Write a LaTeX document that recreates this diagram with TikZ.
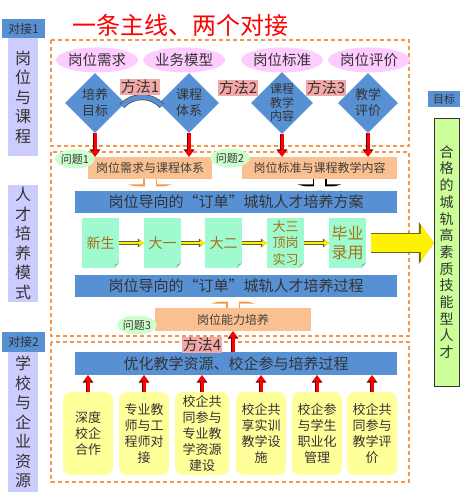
\documentclass[tikz,border=0pt]{standalone}
\usepackage{fontspec}
\setmainfont{Noto Sans CJK SC}
\usetikzlibrary{calc,shapes.geometric,arrows.meta}

\definecolor{barblue}{RGB}{88,144,212}
\definecolor{lav}{RGB}{204,204,255}
\definecolor{pinkell}{RGB}{255,204,255}
\definecolor{methodpink}{RGB}{244,168,168}
\definecolor{qgreen}{RGB}{204,255,204}
\definecolor{boxorange}{RGB}{250,192,144}
\definecolor{mint}{RGB}{160,250,208}
\definecolor{paleyel}{RGB}{255,255,153}
\definecolor{dashorange}{RGB}{247,150,70}
\definecolor{goalgreen}{RGB}{204,255,153}
\definecolor{stagetext}{RGB}{160,115,20}

\begin{document}
\begin{tikzpicture}[x=1pt, y=-1pt,
  colbox/.style={fill=lav, minimum width=30pt, inner sep=0pt, align=center,
    font=\fontsize{16}{19.5}\selectfont, text=black!80},
  dockbox/.style={fill=barblue, minimum width=43pt, minimum height=19pt, inner sep=0pt,
    font=\fontsize{12}{12}\selectfont, text=black!80},
  frame/.style={draw=dashorange, line width=1.2pt, dash pattern=on 4pt off 3pt},
  demand/.style={ellipse, fill=pinkell, minimum width=80pt, minimum height=25pt, inner sep=0pt,
    font=\fontsize{14.5}{14.5}\selectfont, text=black!80},
  gem/.style={diamond, fill=barblue, minimum width=60pt, minimum height=60pt, inner sep=0pt,
    align=center, text=black!80},
  method/.style={fill=methodpink, inner sep=1pt, font=\fontsize{15}{15}\selectfont, text=black!80},
  question/.style={ellipse, fill=qgreen, minimum width=34pt, minimum height=19pt, inner sep=0pt,
    font=\fontsize{11}{11}\selectfont, text=black!80},
  issue/.style={fill=boxorange, minimum height=22pt, inner sep=0pt,
    font=\fontsize{12}{12}\selectfont, text=black!75},
  bar/.style={fill=barblue, minimum width=322pt, minimum height=22pt, inner sep=0pt,
    font=\fontsize{15}{15}\selectfont, text=black!80},
  stage/.style={fill=mint, minimum width=37pt, minimum height=50pt, inner sep=0pt,
    align=center, text=stagetext},
  resource/.style={fill=paleyel, rounded corners=8pt, minimum width=50pt, minimum height=83pt,
    inner sep=0pt, align=center, font=\fontsize{13}{16}\selectfont, text=black!80},
  redarrow/.style={draw=red, line width=3pt, -{Triangle[length=6pt,width=8pt]},
    preaction={draw=red!40!black, line width=4.2pt, -{Triangle[length=7.5pt,width=10.5pt]}}},
  yelarrow/.style={draw=yellow, line width=2.4pt, -{Triangle[length=4.5pt,width=6pt]},
    preaction={draw=olive!60!black, line width=3.8pt, -{Triangle[length=6pt,width=8.5pt]}}},
  hollow/.style={draw=white, line width=11pt, -{Triangle[length=4.5pt,width=39pt]},
    preaction={draw=#1, line width=14pt, -{Triangle[length=6.5pt,width=44pt]}}},
  bigarrow/.style={draw=yellow, line width=18pt, -{Triangle[length=13pt,width=37pt]},
    preaction={draw=olive!70!black, line width=20pt, -{Triangle[length=15pt,width=41pt]}}},
]

  \useasboundingbox (0,0) rectangle (468,502);

  % Dashed frames
  \draw[frame] (51,40) rectangle (409,146);
  \draw[frame] (51,152) rectangle (409,336);
  \draw[frame] (51,342) rectangle (409,482);

  % Title
  \node[text=red, font=\fontsize{24}{24}\selectfont] (title) at (180,25) {一条主线、两个对接};

  % Left column
  \node[dockbox] (dock1) at (23.5,29) {对接1};
  \node[colbox, minimum height=118pt] (col1) at (23,97) {岗\\位\\与\\课\\程};
  \node[colbox, minimum height=117pt] (col2) at (23,243.5) {人\\才\\培\\养\\模\\式};
  \node[dockbox, minimum height=20pt] (dock2) at (23.5,342) {对接2};
  \node[colbox, minimum height=140pt] (col3) at (23,422) {学\\校\\与\\企\\业\\资\\源};

  % Demands and diamonds
  \node[demand] (e1) at (97,60) {岗位需求};
  \node[demand] (e2) at (184,60) {业务模型};
  \node[demand] (e3) at (282,60) {岗位标准};
  \node[demand] (e4) at (369,60) {岗位评价};

  \node[gem, font=\fontsize{13}{16}\selectfont] (d1) at (95,103) {培养\\目标};
  \node[gem, font=\fontsize{13}{16}\selectfont] (d2) at (189,103) {课程\\体系};
  \node[gem, font=\fontsize{12}{13.5}\selectfont] (d3) at (282,103) {课程\\教学\\内容};
  \node[gem, font=\fontsize{13}{16}\selectfont] (d4) at (368,103) {教学\\评价};

  % Bridge between the first two diamonds
  \draw[line width=4.5pt, barblue, preaction={draw=black!70, line width=6pt}]
    ($(d1.east)+(-3,3)$) to[bend left=50] ($(d2.west)+(3,3)$);

  \node[method] (m1) at (140,87) {方法1};
  \node[method] (m2) at (238,88) {方法2};
  \node[method] (m3) at (326,88) {方法3};

  % Problems
  \node[issue, minimum width=124pt] (q1box) at (150,168) {岗位需求与课程体系};
  \node[issue, minimum width=155pt] (q2box) at (319.5,168) {岗位标准与课程教学内容};
  \node[question] (q1) at (75,159) {问题1};
  \node[question] (q2) at (230,158) {问题2};

  \draw[redarrow] (d1.south) -- (d1.south |- q1box.north);
  \draw[redarrow] (d2.south) -- (d2.south |- q1box.north);
  \draw[redarrow] (d3.south) -- (d3.south |- q2box.north);
  \draw[redarrow] (d4.south) -- (d4.south |- q2box.north);

  % Training plan and stages
  \node[bar] (plan) at (236,202) {岗位导向的“订单”城轨人才培养方案};
  \draw[hollow=dashorange] (q1box.south) -- (q1box.south |- plan.north);
  \draw[hollow=black] (q2box.south) -- (q2box.south |- plan.north);

  \node[stage, font=\fontsize{14}{14}\selectfont] (s1) at (100.5,243) {新生};
  \node[stage, font=\fontsize{14}{14}\selectfont] (s2) at (162.5,243) {大一};
  \node[stage, font=\fontsize{14}{14}\selectfont] (s3) at (223.5,243) {大二};
  \node[stage, font=\fontsize{13}{16.5}\selectfont] (s4) at (285.5,243) {大三\\顶岗\\实习};
  \node[stage, font=\fontsize{16}{19}\selectfont] (s5) at (347.5,243) {毕业\\录用};

  % Folded corners
  \foreach \s in {s1,s2,s3,s4,s5} {
    \fill[white] (\s.south east) -- ($(\s.south east)+(-5,0)$) -- ($(\s.south east)+(0,-5)$) -- cycle;
    \fill[mint!55!gray] ($(\s.south east)+(-5,0)$) -- ($(\s.south east)+(0,-5)$) -- ($(\s.south east)+(-4,-4)$) -- cycle;
  }

  \draw[yelarrow] (s1) -- (s2);
  \draw[yelarrow] (s2) -- (s3);
  \draw[yelarrow] (s3) -- (s4);
  \draw[yelarrow] (s4) -- (s5);

  \node[bar] (process) at (236,286) {岗位导向的“订单”城轨人才培养过程};

  % Ability and method 4
  \node[issue, minimum width=156pt, minimum height=23pt] (ability) at (233,319.5) {岗位能力培养};
  \node[question] (q3) at (137,325) {问题3};
  \draw[hollow=dashorange] (ability.north) -- (ability.north |- process.south);

  \node[bar, minimum height=23pt] (optimize) at (236,363.5) {优化教学资源、校企参与培养过程};
  \node[method] (m4) at (202,345) {方法4};
  \draw[redarrow] (optimize.north -| ability.south) -- (ability.south);

  % Resources
  \node[resource] (r1) at (88,433.5) {深度\\校企\\合作};
  \node[resource] (r2) at (144,433.5) {专业教\\师与工\\程师对\\接};
  \node[resource, minimum width=54pt] (r3) at (202,433.5) {校企共\\同参与\\专业教\\学资源\\建设};
  \node[resource] (r4) at (261,433.5) {校企共\\享实训\\教学设\\施};
  \node[resource] (r5) at (317,433.5) {校企参\\与学生\\职业化\\管理};
  \node[resource] (r6) at (372,433.5) {校企共\\同参与\\教学评\\价};

  \foreach \r in {r1,r2,r3,r4,r5,r6}
    \draw[redarrow] (\r.north) -- (\r.north |- optimize.south);

  % Goal
  \node[dockbox, minimum width=32pt, minimum height=16pt, font=\fontsize{11}{11}\selectfont] (target) at (444,99) {目标};
  \node[draw=black!80, fill=goalgreen, minimum width=25pt, minimum height=268pt, inner sep=0pt,
    align=center, font=\fontsize{14}{16.7}\selectfont, text=black!80] (goal) at (446.5,252)
    {合\\格\\的\\城\\轨\\高\\素\\质\\技\\能\\型\\人\\才};

  \coordinate (bigtail) at ($(s5.east)+(5,0)$);
  \draw[bigarrow] (bigtail) -- (bigtail -| goal.west);

\end{tikzpicture}
\end{document}
